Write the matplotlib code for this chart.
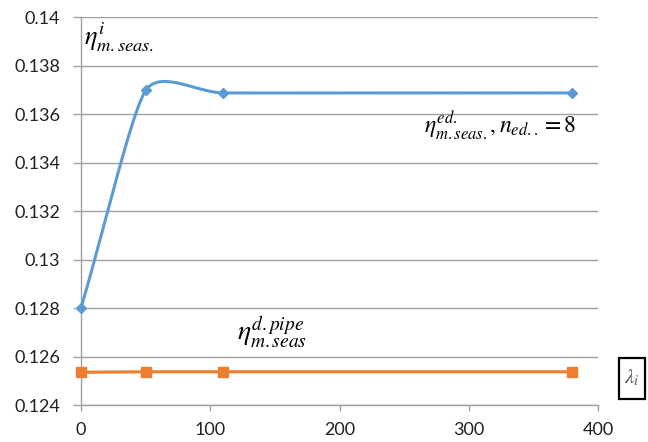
import numpy as np
import matplotlib
matplotlib.use("Agg")
import matplotlib.pyplot as plt
from matplotlib.patches import Rectangle

# ---- data ----
x_vals = [0, 50, 110, 380]
eta_ed = [0.1280, 0.13697, 0.13687, 0.13687]
eta_pipe = [0.12535, 0.12537, 0.12537, 0.12537]
y_ticks = [0.124, 0.126, 0.128, 0.13, 0.132, 0.134, 0.136, 0.138, 0.14]
y_tick_labels = ["0.124", "0.126", "0.128", "0.13", "0.132", "0.134", "0.136", "0.138", "0.14"]
x_ticks = [0, 100, 200, 300, 400]

BLUE = "#5B9BD5"
ORANGE = "#ED7D31"
GRID = "#A0A0A0"

plt.rcParams["mathtext.fontset"] = "stix"

fig = plt.figure(figsize=(6.48, 4.42), dpi=100)
ax = fig.add_axes([0.125, 0.0837, 0.798, 0.8778])
ax.set_xlim(0, 400)
ax.set_ylim(0.124, 0.14)


def smooth(xs, ys, ax, n=60):
    """Excel-like smoothed line: Bezier segments with tangents from neighbours,
    computed in display space."""
    fig.canvas.draw()
    tr = ax.transData
    P = tr.transform(np.column_stack([xs, ys]))
    m = len(P)
    T = []
    for i in range(m):
        a = P[max(i - 1, 0)]
        b = P[min(i + 1, m - 1)]
        d = b - a
        T.append(d / np.linalg.norm(d))
    chords = [np.linalg.norm(P[i + 1] - P[i]) for i in range(m - 1)]
    out = [P[0]]
    t = np.linspace(0, 1, n)[1:, None]
    for i in range(m - 1):
        p0, p3 = P[i], P[i + 1]
        own = chords[i]
        prev = chords[i - 1] if i > 0 else own
        nxt = chords[i + 1] if i + 1 < m - 1 else own
        L1 = min(own, prev) / 3.0
        L2 = min(own, nxt) / 3.0
        c1 = p0 + T[i] * L1
        c2 = p3 - T[i + 1] * L2
        seg = ((1 - t) ** 3) * p0 + 3 * ((1 - t) ** 2) * t * c1 + 3 * (1 - t) * t ** 2 * c2 + t ** 3 * p3
        out.extend(seg)
    out = np.array(out)
    return tr.inverted().transform(out)


# grid / axes
ax.set_yticks(y_ticks)
ax.set_yticklabels(y_tick_labels)
ax.set_xticks(x_ticks)
ax.yaxis.grid(True, color=GRID, linewidth=1.0)
ax.xaxis.grid(False)
ax.set_axisbelow(True)
for s in ["top", "right"]:
    ax.spines[s].set_visible(False)
for s in ["left", "bottom"]:
    ax.spines[s].set_color(GRID)
    ax.spines[s].set_linewidth(1.0)
ax.tick_params(axis="both", colors=GRID, width=1.0, direction="out",
               labelcolor="#222222", labelsize=13)
ax.tick_params(axis="y", length=6, pad=9)
ax.tick_params(axis="x", length=4, pad=8)
for lab in ax.get_xticklabels() + ax.get_yticklabels():
    lab.set_fontfamily("Lato")

sm = smooth(x_vals, eta_ed, ax)
ax.plot(sm[:, 0], sm[:, 1], color=BLUE, linewidth=2.2, solid_capstyle="round", zorder=3, clip_on=False)
ax.plot(x_vals, eta_ed, linestyle="none", marker="D", markersize=5, color=BLUE, zorder=4, clip_on=False)

ax.plot(x_vals, eta_pipe, color=ORANGE, linewidth=2.2, marker="s", markersize=7, zorder=3, clip_on=False)

# annotations
ax.text(2, 0.13885, r"$\eta^{i}_{m.seas.}$", fontsize=19, ha="left", va="baseline", color="black")
ax.text(265, 0.13522, r"$\eta^{ed.}_{m.seas.},n_{ed..}=8$", fontsize=17, ha="left", va="baseline", color="black")
ax.text(121, 0.12668, r"$\eta^{d.pipe}_{m.seas}$", fontsize=20, ha="left", va="baseline", color="black")

# lambda box
fig.patches.append(Rectangle((0.956, 0.097), 0.039, 0.093, transform=fig.transFigure,
                             facecolor="white", edgecolor="black", linewidth=1.6, zorder=5))
fig.text(0.975, 0.145, r"$\lambda_{i}$", fontsize=15, ha="center", va="center", color="#555555", zorder=6)

fig.savefig("out.png", dpi=100)
